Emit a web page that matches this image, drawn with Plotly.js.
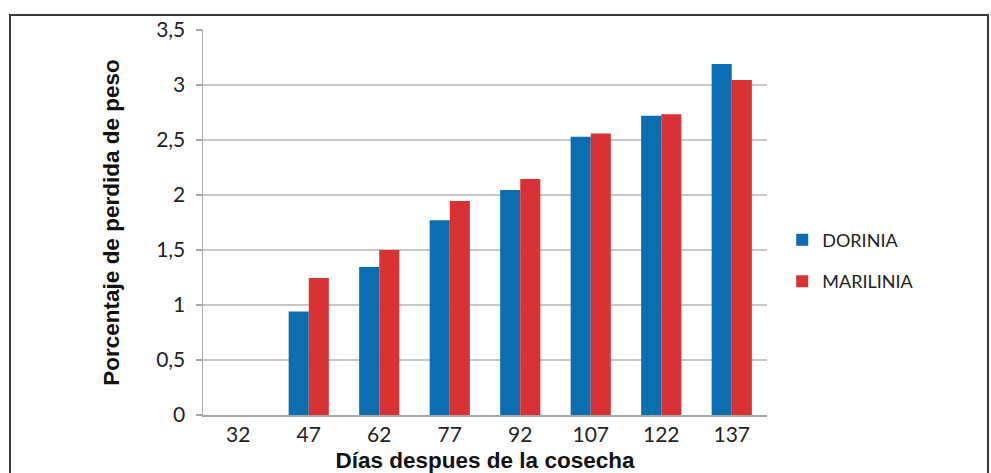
<!DOCTYPE html>
<html>
<head>
<meta charset="utf-8">
<script src="https://cdn.plot.ly/plotly-3.0.1.min.js"></script>
<style>
  html, body { margin: 0; padding: 0; background: #fff; }
  #wrap { position: relative; width: 991px; height: 473px; overflow: hidden; }
  #frame { position: absolute; left: 9px; top: 14px; width: 980px; height: 470px; border: 2px solid #3a3a3a; box-sizing: border-box; pointer-events: none; }
  #chart { position: absolute; left: 0; top: 0; width: 991px; height: 473px; }
</style>
</head>
<body>
<div id="wrap">
  <div id="chart"></div>
  <div id="frame"></div>
</div>
<script>
const categories = ["32", "47", "62", "77", "92", "107", "122", "137"];
const dorinia = [0, 0.94, 1.345, 1.77, 2.045, 2.53, 2.72, 3.19];
const marilinia = [0, 1.245, 1.5, 1.945, 2.145, 2.56, 2.735, 3.045];
const yTickVals = [0, 0.5, 1, 1.5, 2, 2.5, 3, 3.5];
const yTickText = ["0", "0,5", "1", "1,5", "2", "2,5", "3", "3,5"];

const tickFont = { family: "Lato, 'Open Sans', sans-serif", size: 21, color: "#222" };
const titleFont = { family: "'Liberation Sans', Arial, sans-serif", size: 22.5, color: "#111", weight: "bold" };

const data = [
  { type: "bar", name: "DORINIA", x: categories, y: dorinia, marker: { color: "#0a6eb0" }, legendgroup: "a" },
  { type: "bar", name: "MARILINIA", x: categories, y: marilinia, marker: { color: "#d93234" }, legendgroup: "b" }
];

const layout = {
  width: 991, height: 473,
  margin: { l: 203, r: 224, t: 30, b: 58 },
  paper_bgcolor: "#fff", plot_bgcolor: "#fff",
  barmode: "group", bargap: 0.43, bargroupgap: 0,
  showlegend: true,
  legend: {
    x: 1.027, y: 0.401, xanchor: "left", yanchor: "middle",
    font: { family: "Lato, 'Open Sans', sans-serif", size: 18, color: "#222" },
    tracegroupgap: 15, itemwidth: 30, traceorder: "grouped"
  },
  xaxis: {
    type: "category", tickfont: tickFont,
    showgrid: false, showline: true, linecolor: "#a6a6a6", linewidth: 1.5,
    ticks: "", zeroline: false,
    title: { text: "Días despues de la cosecha", font: titleFont, standoff: 10 }
  },
  yaxis: {
    range: [0, 3.5], tickvals: yTickVals, ticktext: yTickText, tickfont: tickFont,
    showgrid: true, gridcolor: "#c8c8c8", gridwidth: 1.5,
    showline: true, linecolor: "#a6a6a6", linewidth: 1.5,
    ticks: "outside", ticklen: 6, tickcolor: "#a6a6a6", tickwidth: 1.5,
    ticklabelstandoff: 6,
    zeroline: false,
    title: { text: "Porcentaje de perdida de peso", font: titleFont, standoff: 30 }
  }
};

Plotly.newPlot("chart", data, layout, { displayModeBar: false, staticPlot: true });
</script>
</body>
</html>
